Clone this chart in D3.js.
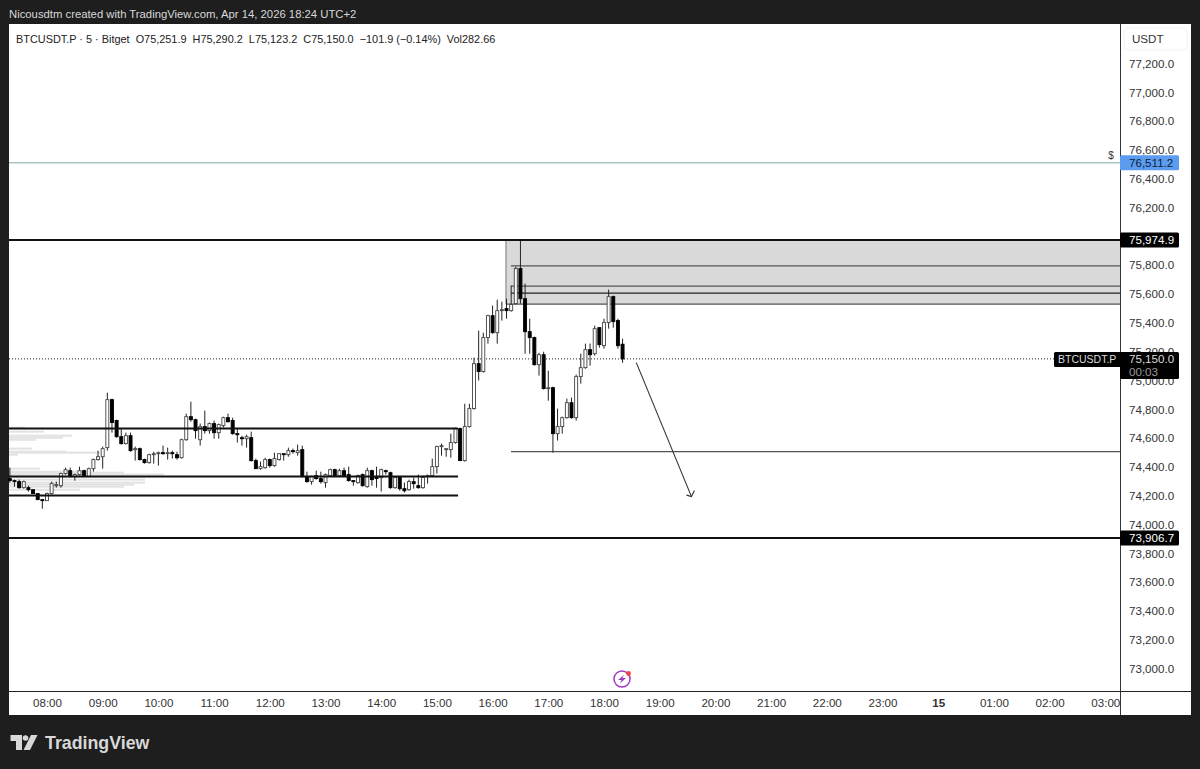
<!DOCTYPE html>
<html lang="en">
<head>
    <meta charset="utf-8">
    <title>BTCUSDT.P 5m</title>
    <script src="https://cdn.jsdelivr.net/npm/d3@7"></script>
    <style>
        body { margin: 0; padding: 0; background-color: #1e1e1e; overflow: hidden; }
        svg { display: block; font-family: "Liberation Sans", Inter, sans-serif; }
        .price-axis text, .time-axis text { font-size: 11.6px; fill: #333; }
        .time-axis text.day { font-weight: 700; }
    </style>
</head>
<body>
    <svg width="1200" height="769" id="chart"></svg>
    <script>
        var opens = [
            74319,74305,74298,74256,74256,74242,74215,74173,74166,74215,
            74270,74270,74354,74374,74333,74347,74374,74333,74388,74451,
            74471,74534,74867,74722,74610,74562,74617,74520,74527,74451,
            74430,74485,74492,74499,74492,74499,74485,74464,74589,74749,
            74728,74589,74680,74652,74701,74638,74687,74742,74722,74631,
            74603,74596,74603,74444,74388,74395,74451,74409,74451,74492,
            74485,74513,74499,74520,74333,74298,74340,74319,74291,74340,
            74381,74340,74374,74347,74305,74291,74347,74263,74374,74326,
            74326,74374,74360,74256,74326,74249,74242,74298,74270,74256,
            74333,74340,74402,74541,74520,74520,74569,74666,74444,74680,
            74805,75117,75062,75298,75450,75332,75485,75499,75485,75534,
            75777,75568,75339,75298,75110,75179,74944,74950,74631,74680,
            74742,74846,74742,75027,75089,75214,75186,75367,75242,75402,
            75582,75416,75251.9];
        var highs = [
            74395,74312,74312,74305,74270,74242,74215,74173,74222,74298,
            74298,74360,74395,74395,74354,74402,74381,74395,74458,74513,
            74541,74916,74874,74728,74666,74638,74638,74541,74534,74458,
            74492,74506,74506,74548,74534,74513,74506,74596,74770,74853,
            74735,74701,74791,74708,74722,74701,74749,74770,74742,74666,
            74617,74624,74645,74458,74437,74464,74458,74499,74492,74492,
            74534,74527,74555,74548,74367,74340,74374,74367,74354,74388,
            74388,74388,74395,74402,74305,74347,74354,74395,74381,74402,
            74388,74381,74367,74333,74333,74291,74312,74326,74347,74340,
            74347,74458,74548,74562,74527,74631,74673,74673,74839,74839,
            75159,75346,75332,75457,75520,75561,75548,75568,75659,75790,
            75971,75672,75429,75305,75193,75200,75068,74957,74805,74749,
            74874,74881,75041,75186,75256,75256,75381,75367,75429,75631,
            75589,75429,75290.2];
        var lows = [
            74291,74263,74249,74249,74229,74215,74173,74110,74166,74208,
            74256,74256,74347,74326,74305,74340,74333,74333,74367,74444,
            74388,74513,74638,74603,74555,74555,74506,74444,74444,74423,
            74423,74423,74409,74485,74451,74458,74451,74458,74582,74714,
            74596,74548,74631,74631,74596,74596,74673,74708,74624,74569,
            74548,74534,74437,74388,74381,74388,74395,74402,74444,74444,
            74471,74492,74478,74326,74291,74277,74312,74284,74256,74333,
            74333,74333,74333,74298,74270,74284,74263,74256,74270,74256,
            74229,74347,74249,74249,74235,74222,74235,74249,74249,74249,
            74284,74333,74354,74478,74471,74464,74562,74444,74437,74673,
            74798,75000,75055,75256,75325,75256,75416,75429,75478,75527,
            75534,75186,75186,75103,75034,74937,74860,74499,74583,74631,
            74735,74735,74722,74978,75082,75103,75173,75228,75221,75360,
            75367,75221,75123.2];
        var closes = [
            74305,74298,74256,74298,74242,74215,74173,74166,74215,74284,
            74277,74354,74381,74333,74347,74374,74333,74388,74451,74471,
            74527,74867,74708,74610,74562,74617,74513,74527,74451,74430,
            74485,74492,74499,74492,74499,74492,74464,74589,74749,74728,
            74652,74680,74652,74701,74638,74694,74742,74714,74631,74624,
            74596,74610,74444,74388,74402,74451,74409,74458,74492,74485,
            74513,74506,74513,74333,74298,74333,74319,74298,74347,74381,
            74340,74374,74340,74305,74298,74340,74270,74374,74312,74319,
            74381,74367,74256,74326,74249,74235,74298,74284,74256,74326,
            74340,74402,74541,74548,74527,74569,74666,74444,74680,74805,
            75117,75062,75298,75450,75332,75485,75492,75485,75527,75777,
            75568,75339,75298,75110,75179,74944,74950,74631,74680,74742,
            74846,74742,75027,75089,75214,75179,75360,75249,75402,75582,
            75409,75242,75150.0];

        var firstHour = 7 + 20 / 60;   // first candle is 07:20, then every 5 minutes

        var priceTicks = d3.range(73000, 77201, 200);
        var timeTicks = d3.range(8, 28);
        var timeLabels = ["08:00","09:00","10:00","11:00","12:00","13:00","14:00","15:00","16:00","17:00","18:00",
            "19:00","20:00","21:00","22:00","23:00","15","01:00","02:00","03:00"];

        // visible range volume, left side of the chart
        var profilePrices = [74673,74645,74617,74603,74589,74527,74506,74499,74485,74388,74367,74360,74347,74333,74312,74291,74277,74263,74242];
        var profileVols = [16,35,63,54,27,23,57,91,9,31,80,115,155,136,136,136,125,115,71];

        // drawn levels
        var heavyPrices = [75974.9, 73906.7];
        var boxLevelPrices = [75796, 75655, 75606, 74506];
        var shortLevelPrices = [74666, 74333, 74201];
        var shortLevelEnd = 15.38;
        var boxStart = 16.24, boxLineStart = 16.33;
        var boxTop = 75974.9, boxBottom = 75530;
        var lastPrice = 75150.0, alertPrice = 76511.2;
        var arrowHours = [18.58, 19.57], arrowPrices = [75124, 74194];

        var svg = d3.select("#chart");
        var plot = { left: 9, right: 1120, top: 24, bottom: 691 };

        svg.append("rect").attr("x", 9).attr("y", 24).attr("width", 1182).attr("height", 691).attr("fill", "#fff");

        var x = d3.scaleLinear().domain([7.318, 27.264]).range([plot.left, plot.right]);
        var y = d3.scaleLinear().domain([73000, 77200]).range([668.6, 63.6]);
        var vol = d3.scaleLinear().domain([0, 155]).range([plot.left, plot.left + 155]);

        var candleHour = function (i) { return firstHour + i / 12; };

        // volume profile
        svg.append("g").selectAll("rect")
            .data(profilePrices)
            .enter().append("rect")
            .attr("x", plot.left)
            .attr("y", function (d) { return y(d) - 1; })
            .attr("width", function (d, i) { return vol(profileVols[i]) - plot.left; })
            .attr("height", 2)
            .attr("fill", "#e2e2e2");

        // shaded zone
        svg.append("rect")
            .attr("x", x(boxStart))
            .attr("y", y(boxTop))
            .attr("width", plot.right - x(boxStart))
            .attr("height", y(boxBottom) - y(boxTop))
            .attr("fill", "#d9d9d9");
        svg.append("line")
            .attr("x1", x(boxStart)).attr("x2", x(boxStart))
            .attr("y1", y(boxTop)).attr("y2", y(boxBottom))
            .attr("stroke", "#777").attr("stroke-width", 1);
        svg.append("line")
            .attr("x1", x(boxStart)).attr("x2", plot.right)
            .attr("y1", y(boxBottom)).attr("y2", y(boxBottom))
            .attr("stroke", "#555").attr("stroke-width", 1.2);

        svg.append("g").selectAll("line")
            .data(boxLevelPrices)
            .enter().append("line")
            .attr("x1", x(boxLineStart)).attr("x2", plot.right)
            .attr("y1", function (d) { return y(d); }).attr("y2", function (d) { return y(d); })
            .attr("stroke", function (d, i) { return i === 2 ? "#222" : "#555"; })
            .attr("stroke-width", 1.2);

        // last price dotted line
        svg.append("line")
            .attr("x1", plot.left).attr("x2", plot.right)
            .attr("y1", y(lastPrice)).attr("y2", y(lastPrice))
            .attr("stroke", "#222").attr("stroke-width", 1).attr("stroke-dasharray", "1,2");

        // alert line
        svg.append("line")
            .attr("x1", plot.left).attr("x2", plot.right)
            .attr("y1", y(alertPrice)).attr("y2", y(alertPrice))
            .attr("stroke", "#7fa9a6").attr("stroke-width", 1);

        // candles
        var candles = svg.append("g")
            .selectAll("g")
            .data(opens)
            .enter().append("g")
            .attr("transform", function (d, i) { return "translate(" + x(candleHour(i)) + ",0)"; });

        candles.append("line")
            .attr("y1", function (d, i) { return y(highs[i]); })
            .attr("y2", function (d, i) { return y(lows[i]); })
            .attr("stroke", "#222").attr("stroke-width", 1);

        candles.append("rect")
            .attr("x", -1.5)
            .attr("width", 3)
            .attr("y", function (d, i) { return y(Math.max(opens[i], closes[i])); })
            .attr("height", function (d, i) { return Math.max(1, Math.abs(y(opens[i]) - y(closes[i]))); })
            .attr("fill", function (d, i) { return closes[i] >= opens[i] ? "#fff" : "#000"; })
            .attr("stroke", function (d, i) { return closes[i] >= opens[i] ? "#444" : "#000"; })
            .attr("stroke-width", 0.9);

        // heavy levels
        svg.append("g").selectAll("line")
            .data(heavyPrices)
            .enter().append("line")
            .attr("x1", plot.left).attr("x2", plot.right)
            .attr("y1", function (d) { return y(d); }).attr("y2", function (d) { return y(d); })
            .attr("stroke", "#111").attr("stroke-width", 2);

        svg.append("g").selectAll("line")
            .data(shortLevelPrices)
            .enter().append("line")
            .attr("x1", plot.left).attr("x2", x(shortLevelEnd))
            .attr("y1", function (d) { return y(d); }).attr("y2", function (d) { return y(d); })
            .attr("stroke", "#111").attr("stroke-width", 2);

        // arrow
        var tipX = x(arrowHours[1]), tipY = y(arrowPrices[1]);
        svg.append("line")
            .attr("x1", x(arrowHours[0])).attr("y1", y(arrowPrices[0]))
            .attr("x2", tipX).attr("y2", tipY)
            .attr("stroke", "#333").attr("stroke-width", 1.1);
        svg.append("path")
            .attr("d", "M" + (tipX - 5) + "," + (tipY - 1.5) + "L" + tipX + "," + tipY + "L" + (tipX + 3) + "," + (tipY - 6))
            .attr("fill", "none").attr("stroke", "#333").attr("stroke-width", 1.1);

        // axes
        svg.append("line").attr("x1", plot.right + 0.5).attr("x2", plot.right + 0.5).attr("y1", 24).attr("y2", 715).attr("stroke", "#333");
        svg.append("line").attr("x1", 9).attr("x2", 1191).attr("y1", 691.5).attr("y2", 691.5).attr("stroke", "#222");

        var priceAxis = svg.append("g")
            .attr("class", "price-axis")
            .attr("transform", "translate(1129,0)")
            .call(d3.axisRight(y).tickValues(priceTicks).tickSize(0).tickPadding(0).tickFormat(d3.format(",.1f")));
        priceAxis.select(".domain").remove();

        var timeAxis = svg.append("g")
            .attr("class", "time-axis")
            .attr("transform", "translate(0,699)")
            .call(d3.axisBottom(x).tickValues(timeTicks).tickSize(0).tickPadding(0)
                .tickFormat(function (d, i) { return timeLabels[i]; }));
        timeAxis.select(".domain").remove();
        timeAxis.selectAll("text").classed("day", function (d, i) { return timeLabels[i] === "15"; });

        // price labels
        function priceTag(price, fill, color) {
            var py = y(price);
            svg.append("rect").attr("x", 1120).attr("y", py - 7.5).attr("width", 59).attr("height", 15).attr("rx", 1.5).attr("fill", fill);
            svg.append("text").attr("x", 1129).attr("y", py).attr("dy", "0.36em")
                .attr("font-size", 11.6).attr("fill", color).text(d3.format(",.1f")(price));
        }
        priceTag(alertPrice, "#5b9cf0", "#0f2238");
        priceTag(boxTop, "#000", "#fff");
        priceTag(73906.7, "#000", "#fff");

        var lastY = y(lastPrice);
        svg.append("rect").attr("x", 1054).attr("y", lastY - 7).attr("width", 68).attr("height", 15).attr("rx", 1.5).attr("fill", "#000");
        svg.append("rect").attr("x", 1120).attr("y", lastY - 7).attr("width", 59).attr("height", 27).attr("rx", 1.5).attr("fill", "#000");
        svg.append("text").attr("x", 1058).attr("y", lastY).attr("dy", "0.36em").attr("font-size", 10.5).attr("fill", "#ddd").text("BTCUSDT.P");
        svg.append("text").attr("x", 1129).attr("y", lastY).attr("dy", "0.36em").attr("font-size", 11.6).attr("fill", "#ddd").text("75,150.0");
        svg.append("text").attr("x", 1129).attr("y", lastY + 13).attr("dy", "0.36em").attr("font-size", 11.6).attr("fill", "#999").text("00:03");

        svg.append("text").attr("x", 1111).attr("y", 159).attr("text-anchor", "middle").attr("font-size", 10).attr("fill", "#333").text("$");

        // USDT button
        svg.append("rect").attr("x", 1124).attr("y", 28).attr("width", 63).attr("height", 22).attr("rx", 4)
            .attr("fill", "#fff").attr("stroke", "#f2f2f2");
        svg.append("text").attr("x", 1132).attr("y", 38.5).attr("dy", "0.36em").attr("font-size", 11.6).attr("fill", "#333").text("USDT");

        // header texts
        svg.append("text").attr("x", 9).attr("y", 18).attr("font-size", 11.3).attr("fill", "#d8d8d8")
            .text("Nicousdtm created with TradingView.com, Apr 14, 2026 18:24 UTC+2");
        svg.append("text").attr("x", 16).attr("y", 42.5).attr("font-size", 10.9).attr("fill", "#222")
            .attr("xml:space", "preserve")
            .text("BTCUSDT.P · 5 · Bitget  O75,251.9  H75,290.2  L75,123.2  C75,150.0  −101.9 (−0.14%)  Vol282.66");

        // lightning icon
        var icon = svg.append("g").attr("transform", "translate(622,679)");
        icon.append("circle").attr("r", 8).attr("fill", "#fff").attr("stroke", "#9c3fc0").attr("stroke-width", 1.5);
        icon.append("path").attr("d", "M2,-4L-4,1L-0.5,1L-2,4.5L4,-1L0.5,-1Z").attr("fill", "#9c3fc0");
        icon.append("circle").attr("cx", 6.5).attr("cy", -5.5).attr("r", 2.4).attr("fill", "#ef4444");

        // TradingView logo
        var logo = svg.append("g").attr("fill", "#d8d8d8");
        logo.append("path").attr("d", "M10.5,735H22V750H16V741H10.5Z");
        logo.append("circle").attr("cx", 25.5).attr("cy", 738).attr("r", 2.8);
        logo.append("path").attr("d", "M31,735H37.5L30,750H23.5Z");
        logo.append("text").attr("x", 45).attr("y", 749).attr("font-size", 17.8).attr("font-weight", 600).text("TradingView");
    </script>
</body>
</html>
